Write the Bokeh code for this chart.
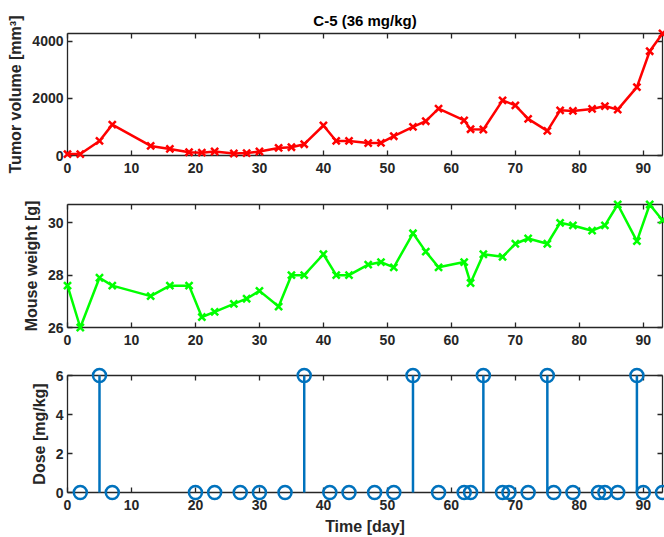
from bokeh.plotting import figure
from bokeh.layouts import column
from bokeh.models import LinearAxis, Range1d, FixedTicker
from bokeh.embed import file_html
from bokeh.resources import INLINE

# ---- data ----
days = [0, 2, 5, 7, 13, 16, 19, 21, 23, 26, 28, 30, 33, 35, 37, 40, 42, 44, 47, 49,
        51, 54, 56, 58, 62, 63, 65, 68, 70, 72, 75, 77, 79, 82, 84, 86, 89, 91, 93]
tumor_volume = [50, 50, 510, 1080, 335, 230, 115, 100, 140, 70, 85, 140, 265, 290, 395,
                1050, 510, 510, 435, 440, 675, 1000, 1200, 1640, 1230, 920, 910, 1930,
                1755, 1280, 860, 1580, 1560, 1630, 1730, 1605, 2395, 3650, 4270]
mouse_weight = [27.6, 26.0, 27.9, 27.6, 27.2, 27.6, 27.6, 26.4, 26.6, 26.9, 27.1, 27.4,
                26.8, 28.0, 28.0, 28.8, 28.0, 28.0, 28.4, 28.5, 28.3, 29.6, 28.9, 28.3,
                28.5, 27.7, 28.8, 28.7, 29.2, 29.4, 29.2, 30.0, 29.9, 29.7, 29.9, 30.7,
                29.3, 30.7, 30.1]
dose_days = [2, 5, 7, 20, 23, 27, 30, 34, 37, 41, 44, 48, 51, 54, 58, 62, 63, 65, 68, 69,
             72, 75, 76, 79, 83, 84, 86, 89, 90, 93]
dose = [0, 6, 0, 0, 0, 0, 0, 0, 6, 0, 0, 0, 0, 6, 0, 0, 0, 6, 0, 0,
        0, 6, 0, 0, 0, 0, 0, 6, 0, 0]
x_ticks = [0, 10, 20, 30, 40, 50, 60, 70, 80, 90]
vol_ticks = [0, 2000, 4000]
weight_ticks = [26, 28, 30]
dose_ticks = [0, 2, 4, 6]

FONT = "Liberation Sans"
AX = "#262626"
W = 664


def style_axis(ax, ticks, labels=True, standoff=4):
    ax.ticker = FixedTicker(ticks=ticks)
    ax.minor_tick_line_color = None
    ax.major_tick_in = 5
    ax.major_tick_out = 0
    ax.major_tick_line_color = AX
    ax.major_tick_line_width = 1.3
    ax.axis_line_color = AX
    ax.axis_line_width = 1.3
    ax.major_label_text_font = FONT
    ax.major_label_text_font_style = "bold"
    ax.major_label_text_font_size = "14px" if labels else "0px"
    ax.major_label_text_color = AX
    ax.major_label_standoff = standoff if labels else 0
    ax.axis_label_text_font = FONT
    ax.axis_label_text_font_style = "bold"
    ax.axis_label_text_font_size = "16px"
    ax.axis_label_text_color = AX
    ax.axis_label_standoff = 5


def make_fig(height, y0, y1, yticks, ylabel, top, bottom, xlabel=None):
    p = figure(width=W, height=height, output_backend="svg", toolbar_location=None,
               x_range=Range1d(0, 93), y_range=Range1d(y0, y1),
               min_border_left=67, min_border_right=2,
               min_border_top=top, min_border_bottom=bottom)
    p.outline_line_color = None
    p.grid.visible = False
    p.background_fill_color = "white"
    p.border_fill_color = "white"
    style_axis(p.xaxis[0], x_ticks, standoff=7)
    style_axis(p.yaxis[0], yticks, standoff=4)
    p.yaxis[0].axis_label = ylabel
    if xlabel:
        p.xaxis[0].axis_label = xlabel
    ta = LinearAxis()
    style_axis(ta, x_ticks, labels=False)
    p.add_layout(ta, "above")
    ra = LinearAxis()
    style_axis(ra, yticks, labels=False)
    p.add_layout(ra, "right")
    return p


p1 = make_fig(180, 0, 4270, vol_ticks, "Tumor volume [mm³]", 33, 25)
p1.title.text = "C-5 (36 mg/kg)"
p1.title.align = "center"
p1.title.text_font = FONT
p1.title.text_font_style = "bold"
p1.title.text_font_size = "15px"
p1.title.text_color = "#000000"
r = p1.line(days, tumor_volume, line_color="#FF0000", line_width=2.5)
r.level = "overlay"
r = p1.scatter(days, tumor_volume, marker="x", size=10, line_color="#FF0000", line_width=2.5)
r.level = "overlay"

p2 = make_fig(172, 26, 30.7, weight_ticks, "Mouse weight [g]", 24, 25)
r = p2.line(days, mouse_weight, line_color="#00FF00", line_width=2.5)
r.level = "overlay"
r = p2.scatter(days, mouse_weight, marker="x", size=10, line_color="#00FF00", line_width=2.5)
r.level = "overlay"

p3 = make_fig(185, 0, 6, dose_ticks, "Dose [mg/kg]", 23, 38, xlabel="Time [day]")
r = p3.segment(x0=dose_days, y0=[0] * len(dose_days), x1=dose_days, y1=dose,
               line_color="#0072BD", line_width=2.5)
r.level = "overlay"
r = p3.scatter(dose_days, dose, marker="circle", size=13, fill_color=None,
               line_color="#0072BD", line_width=2.5)
r.level = "overlay"

layout = column(p1, p2, p3, spacing=0)
open("out.html", "w").write(file_html(layout, INLINE))
